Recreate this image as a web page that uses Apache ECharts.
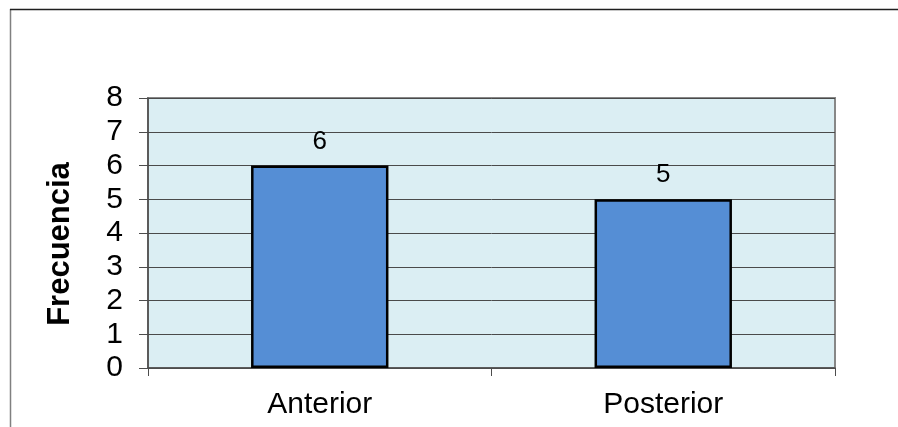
<!DOCTYPE html>
<html>
<head>
<meta charset="utf-8">
<script src="https://cdn.jsdelivr.net/npm/echarts@6/dist/echarts.min.js"></script>
<style>
  html, body { margin: 0; padding: 0; background: #ffffff; }
  #chart { width: 898px; height: 427px; }
</style>
</head>
<body>
<div id="chart"></div>
<script>
// Frequency per category
const categories = ['Anterior', 'Posterior'];
const frequencies = [6, 5];
const axisTitle = 'Frecuencia';
const yMin = 0;
const yMax = 8;
const yStep = 1;

const FONT = '"Liberation Sans", Arial, sans-serif';

const chart = echarts.init(document.getElementById('chart'), null, { renderer: 'canvas' });

chart.setOption({
  animation: false,
  backgroundColor: '#ffffff',
  grid: {
    left: 148,
    top: 98,
    right: 63,
    bottom: 59,
    show: true,
    backgroundColor: '#DBEEF3',
    borderColor: '#878787',
    borderWidth: 2
  },
  xAxis: {
    type: 'category',
    data: categories,
    boundaryGap: true,
    axisLine: { show: true, lineStyle: { color: '#4d4d4d', width: 1.5 } },
    axisTick: { show: true, alignWithLabel: false, length: 8, lineStyle: { color: '#4d4d4d', width: 1 } },
    axisLabel: { color: '#000000', fontFamily: FONT, fontSize: 30, margin: 22 },
    splitLine: { show: false }
  },
  yAxis: {
    type: 'value',
    min: yMin,
    max: yMax,
    interval: yStep,
    axisLine: { show: true, lineStyle: { color: '#4d4d4d', width: 1.5 } },
    axisTick: { show: true, length: 9, lineStyle: { color: '#4d4d4d', width: 1 } },
    axisLabel: { color: '#000000', fontFamily: FONT, fontSize: 30, margin: 25 },
    splitLine: { show: true, lineStyle: { color: '#4a4a4a', width: 1 } }
  },
  series: [{
    type: 'bar',
    data: frequencies,
    barWidth: '40%',
    itemStyle: { color: '#558ED5', borderColor: '#000000', borderWidth: 2.5 },
    label: {
      show: true,
      position: 'top',
      distance: 11,
      color: '#000000',
      fontFamily: FONT,
      fontSize: 26
    }
  }],
  graphic: [
    {
      type: 'text',
      x: 60,
      y: 244,
      rotation: Math.PI / 2,
      style: {
        text: axisTitle,
        font: 'bold 31px ' + FONT,
        fill: '#000000',
        textAlign: 'center',
        textVerticalAlign: 'middle'
      }
    },
    {
      type: 'line',
      shape: { x1: 10.5, y1: 9, x2: 10.5, y2: 427 },
      style: { stroke: '#808080', lineWidth: 1.5 }
    },
    {
      type: 'line',
      shape: { x1: 10, y1: 9.5, x2: 898, y2: 9.5 },
      style: { stroke: '#1f1f1f', lineWidth: 1.5 }
    }
  ]
});
</script>
</body>
</html>
